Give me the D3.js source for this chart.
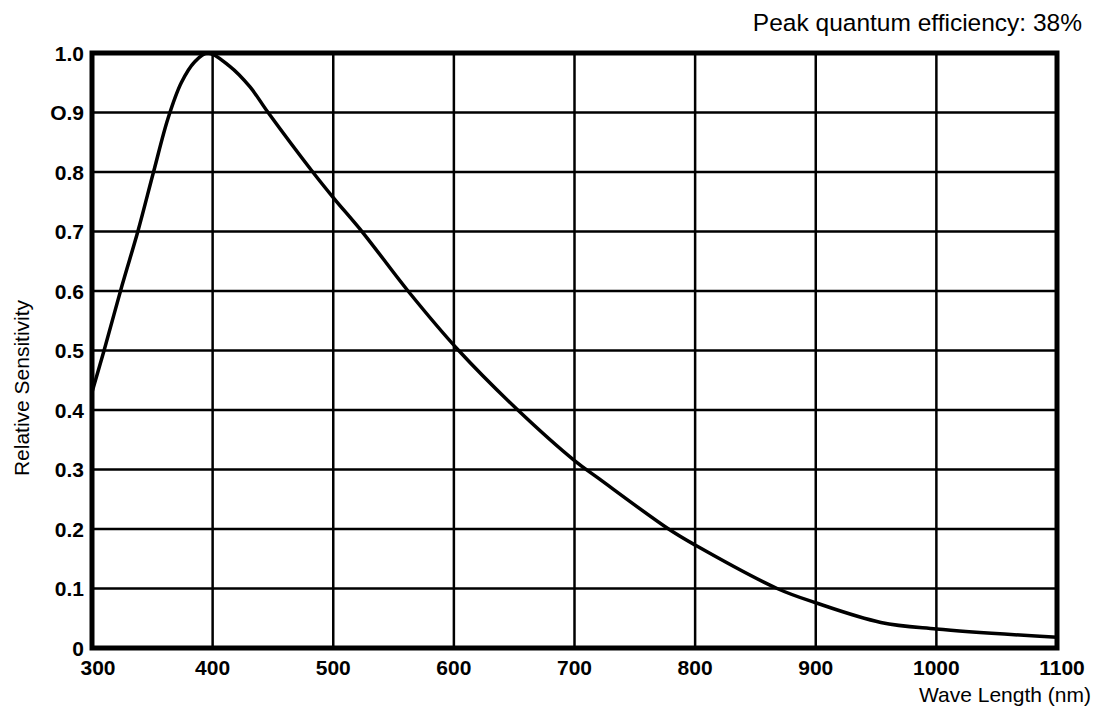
<!DOCTYPE html>
<html>
<head>
<meta charset="utf-8">
<script src="https://cdn.jsdelivr.net/npm/d3@7"></script>
<style>
  body { margin: 0; background: #fff; }
  svg { display: block; }
  text { font-family: "Liberation Sans", Arial, sans-serif; fill: #000; }
</style>
</head>
<body>
<div id="chart"></div>
<script>
// wavelength (nm) and relative sensitivity
const wavelengths = [300, 310, 325, 338, 351, 363, 374, 385, 396, 414, 431, 446, 483, 500, 525, 562, 604, 653, 700, 720, 778, 800, 868, 900, 954, 1000, 1100];
const sensitivity = [0.43, 0.50, 0.61, 0.70, 0.80, 0.89, 0.95, 0.985, 1.0, 0.978, 0.943, 0.90, 0.80, 0.757, 0.697, 0.60, 0.50, 0.40, 0.315, 0.285, 0.20, 0.173, 0.10, 0.076, 0.043, 0.032, 0.018];

const xTicks = [300, 400, 500, 600, 700, 800, 900, 1000, 1100];
const yTicks = [0, 0.1, 0.2, 0.3, 0.4, 0.5, 0.6, 0.7, 0.8, 0.9, 1.0];
const yTickLabels = ['0', '0.1', '0.2', '0.3', '0.4', '0.5', '0.6', '0.7', '0.8', 'O.9', '1.0'];

const titleText = 'Peak quantum efficiency: 38%';
const xTitle = 'Wave Length (nm)';
const yTitle = 'Relative Sensitivity';

const W = 1099, H = 710;
const margin = { top: 53, right: 42, bottom: 62, left: 92 };

const svg = d3.select('#chart')
    .append('svg')
    .attr('width', W)
    .attr('height', H)
    .attr('viewBox', `0 0 ${W} ${H}`);

const x = d3.scaleLinear()
    .domain([300, 1100])
    .range([margin.left, W - margin.right]);

const y = d3.scaleLinear()
    .domain([0, 1])
    .range([H - margin.bottom, margin.top]);

// grid
svg.append('g')
    .selectAll('line')
    .data(xTicks)
    .join('line')
    .attr('x1', d => x(d)).attr('x2', d => x(d))
    .attr('y1', y(0)).attr('y2', y(1))
    .attr('stroke', '#000')
    .attr('stroke-width', 2.5);

svg.append('g')
    .selectAll('line')
    .data(yTicks)
    .join('line')
    .attr('x1', x(300)).attr('x2', x(1100))
    .attr('y1', d => y(d)).attr('y2', d => y(d))
    .attr('stroke', '#000')
    .attr('stroke-width', 2.5);

// curve
const line = d3.line()
    .x(d => x(d[0]))
    .y(d => y(d[1]))
    .curve(d3.curveCatmullRom.alpha(0.5));

svg.append('path')
    .datum(d3.zip(wavelengths, sensitivity))
    .attr('d', line)
    .attr('fill', 'none')
    .attr('stroke', '#000')
    .attr('stroke-width', 3.5)
    .attr('stroke-linejoin', 'round');

// heavy frame
svg.append('rect')
    .attr('x', x(300)).attr('y', y(1))
    .attr('width', x(1100) - x(300))
    .attr('height', y(0) - y(1))
    .attr('fill', 'none')
    .attr('stroke', '#000')
    .attr('stroke-width', 5);

// tick labels
svg.append('g')
    .selectAll('text')
    .data(yTicks)
    .join('text')
    .attr('x', margin.left - 8)
    .attr('y', d => y(d))
    .attr('dy', '0.36em')
    .attr('text-anchor', 'end')
    .style('font-size', '21px')
    .style('font-weight', 'bold')
    .text((d, i) => yTickLabels[i]);

svg.append('g')
    .selectAll('text')
    .data(xTicks)
    .join('text')
    .attr('x', d => d === 300 ? x(d) + 6 : (d === 1100 ? x(d) + 5 : x(d)))
    .attr('y', H - margin.bottom + 27)
    .attr('text-anchor', 'middle')
    .style('font-size', '21px')
    .style('font-weight', 'bold')
    .text(d => d);

// titles
svg.append('text')
    .attr('x', 1082)
    .attr('y', 31)
    .attr('text-anchor', 'end')
    .style('font-size', '24.5px')
    .text(titleText);

svg.append('text')
    .attr('x', 1091)
    .attr('y', 702)
    .attr('text-anchor', 'end')
    .style('font-size', '21px')
    .text(xTitle);

svg.append('text')
    .attr('transform', 'translate(29, 388) rotate(-90)')
    .attr('text-anchor', 'middle')
    .style('font-size', '21px')
    .text(yTitle);
</script>
</body>
</html>
